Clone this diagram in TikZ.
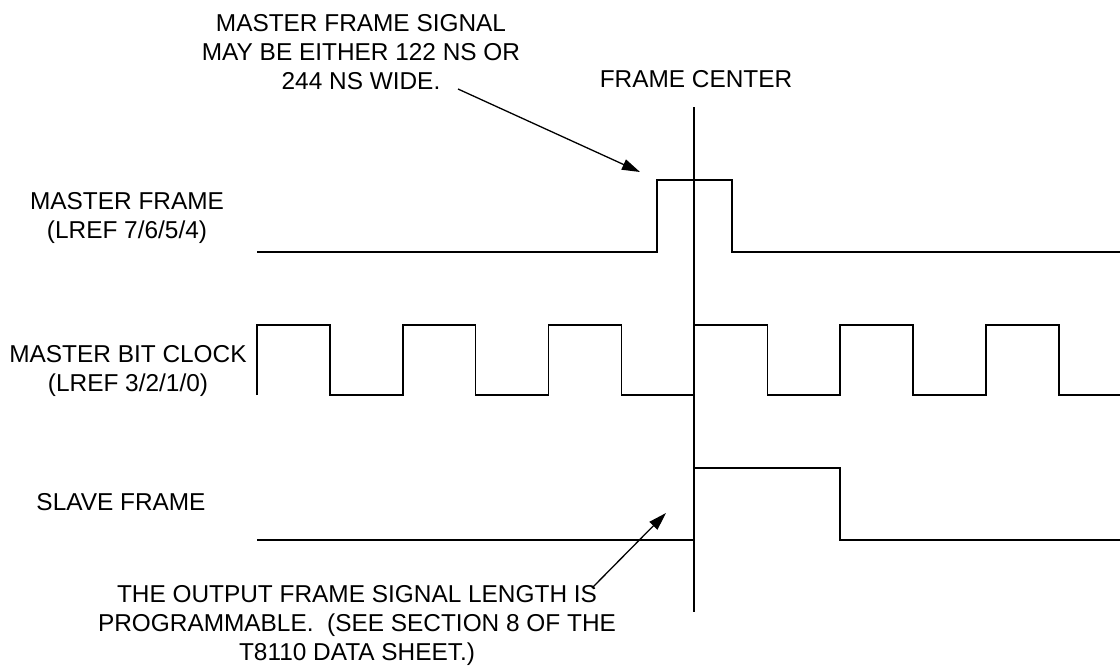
\documentclass[tikz,border=0pt]{standalone}
\usepackage{fontspec}
\setmainfont{Liberation Sans}
\usetikzlibrary{arrows.meta}
\tikzset{
  sig/.style={line width=1.5pt},
  lbl/.style={inner sep=0pt, align=center, font=\fontsize{24.4}{29}\selectfont},
  note/.style={line width=1.3pt, -{Triangle[length=18pt,width=11pt]}}
}
\begin{document}
\begin{tikzpicture}[x=1pt, y=-1pt]
\useasboundingbox (0,0) rectangle (1120,667);
% annotations
\node[lbl, anchor=north] (widthnote) at (361,14.5) {MASTER FRAME SIGNAL\\MAY BE EITHER 122 NS OR\\244 NS WIDE.};
\node[lbl, anchor=north] (fclabel) at (696,70.5) {FRAME CENTER};
\node[lbl, anchor=north] (lengthnote) at (357,585.5) {THE OUTPUT FRAME SIGNAL LENGTH IS\\PROGRAMMABLE.~ (SEE SECTION 8 OF THE\\T8110 DATA SHEET.)};
% signal names
\node[lbl, anchor=north] (mframe) at (127,192.5) {MASTER FRAME\\(LREF 7/6/5/4)};
\node[lbl, anchor=north] (mclock) at (128,345.5) {MASTER BIT CLOCK\\(LREF 3/2/1/0)};
\node[lbl, anchor=north] (sframe) at (121,493.5) {SLAVE FRAME};
% frame center
\coordinate (fctop) at (694,107);
\coordinate (fcbot) at (694,612);
\draw[sig] (fctop) -- (fcbot);
% master frame
\draw[sig] (257,252) -- (657,252) -- (657,180) -- (732,180) -- (732,252) -- (1120,252);
% master bit clock
\draw[sig] (257,395) foreach \i in {0,...,4} { -- ++(0,-70) -- ++(72.9,0) -- ++(0,70) -- ++(72.9,0) }
  -- ++(0,-70) -- ++(72.9,0) -- ++(0,70) -- (1120,395);
% slave frame
\draw[sig] (257,540) -- (694,540) -- (694,468) -- (840,468) -- (840,540) -- (1120,540);
% arrows
\coordinate (widthtail) at (458,89);
\coordinate (widthtip) at (640,172);
\coordinate (lengthtail) at (592,588);
\coordinate (lengthtip) at (666,513);
\draw[note] (widthtail) -- (widthtip);
\draw[note] (lengthtail) -- (lengthtip);
\end{tikzpicture}
\end{document}
